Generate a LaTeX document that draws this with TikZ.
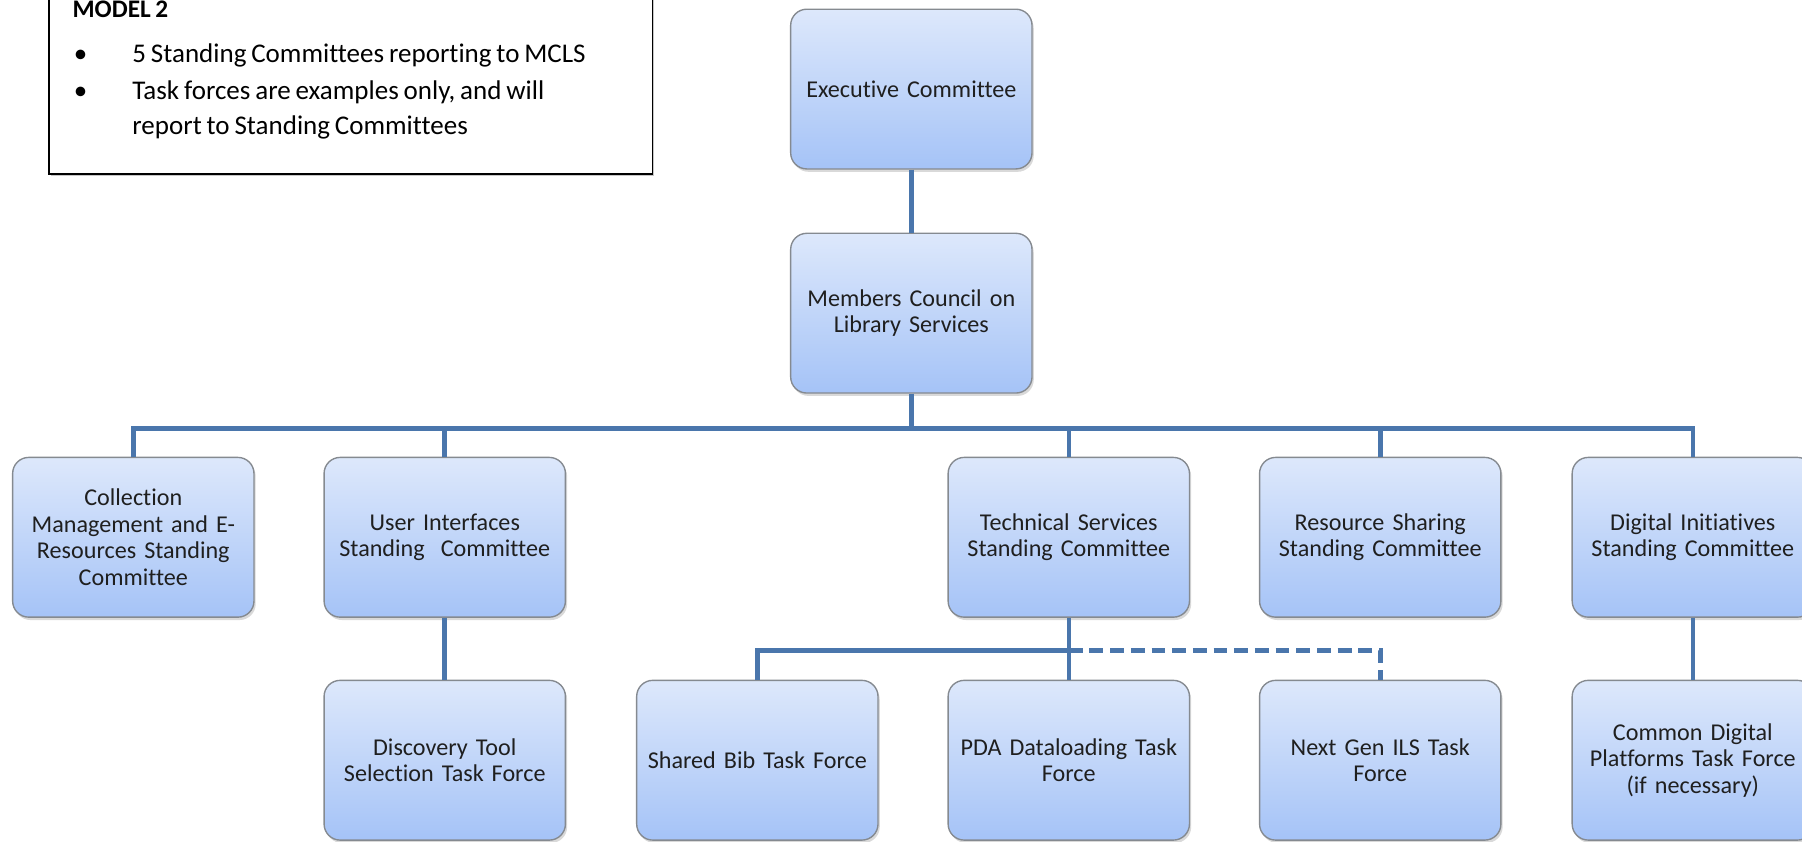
\documentclass[tikz,border=0pt]{standalone}
\usepackage{fontspec}
\setmainfont{Carlito}[Ligatures=NoCommon, WordSpace=0.8]
\usetikzlibrary{shadows}
\definecolor{boxtop}{HTML}{DDE8FB}
\definecolor{boxbot}{HTML}{A5C3F7}
\definecolor{boxline}{HTML}{858A90}
\definecolor{conncol}{HTML}{4A76AC}
\tikzset{
  orgbox/.style={rectangle, rounded corners=14pt, draw=boxline, line width=1.2pt,
    top color=boxtop, bottom color=boxbot, minimum width=210pt, minimum height=139pt,
    align=center, text width=200pt, inner sep=3pt, text=black!88,
    font=\fontsize{21}{23}\selectfont,
    drop shadow={opacity=0.3, shadow xshift=1.5pt, shadow yshift=-2.5pt}},
  conn/.style={draw=conncol, line width=4pt},
  notetext/.style={anchor=base west, inner sep=0pt, font=\fontsize{23.5}{26}\selectfont},
}
\begin{document}
\begin{tikzpicture}[x=1pt,y=-1pt]
\useasboundingbox (0,0) rectangle (1568,732);
% note box
\node[draw=black, line width=1.3pt, fill=white, minimum width=525pt, minimum height=190pt,
      anchor=south west, inner sep=0pt,
      drop shadow={opacity=0.45, shadow xshift=1.5pt, shadow yshift=-1.5pt}] (note) at (42,152) {};
\node[notetext, font=\bfseries\fontsize{22}{24}\selectfont] (title) at (63,15) {MODEL 2};
\node[notetext] (d1) at (64,54) {\textbullet};
\node[notetext] (t1) at (115,54) {5 Standing Committees reporting to MCLS};
\node[notetext] (d2) at (64,87) {\textbullet};
\node[notetext] (t2) at (115,87) {Task forces are examples only, and will};
\node[notetext] (t3) at (115,117) {report to Standing Committees};

% boxes
\node[orgbox] (exec) at (793,77.5) {Executive Committee};
\node[orgbox] (mcls) at (793,272.5) {Members Council on\\Library Services};

\node[orgbox] (coll) at (116,467.5) {Collection\\Management and E-\\Resources Standing\\Committee};
\node[orgbox] (ui)   at (387,467.5) {User Interfaces\\Standing\ \ Committee};
\node[orgbox] (tech) at (930,467.5) {Technical Services\\Standing Committee};
\node[orgbox] (res)  at (1201,467.5) {Resource Sharing\\Standing Committee};
\node[orgbox] (dig)  at (1473,467.5) {Digital Initiatives\\Standing Committee};

\node[orgbox] (disc)  at (387,661.5) {Discovery Tool\\Selection Task Force};
\node[orgbox] (bib)   at (659,661.5) {Shared Bib Task Force};
\node[orgbox] (pda)   at (930,661.5) {PDA Dataloading Task\\Force};
\node[orgbox] (ngils) at (1201,661.5) {Next Gen ILS Task\\Force};
\node[orgbox] (cdp)   at (1473,661.5) {Common Digital\\Platforms Task Force\\(if necessary)};

% connectors
\coordinate (bus) at (793,373);
\coordinate (sub) at (930,566);
\draw[conn] (exec) -- (mcls);
\draw[conn] (mcls) -- (bus);
\draw[conn] (coll.north) -- (coll.north |- bus) -- (dig.north |- bus) -- (dig.north);
\draw[conn] (ui.north) -- (ui.north |- bus);
\draw[conn] (tech.north) -- (tech.north |- bus);
\draw[conn] (res.north) -- (res.north |- bus);
\draw[conn] (ui) -- (disc);
\draw[conn] (dig) -- (cdp);
\draw[conn] (tech) -- (pda);
\draw[conn] (bib.north) -- (bib.north |- sub) -- (sub);
\draw[conn, dash pattern=on 12pt off 6pt] (sub) -- (ngils.north |- sub) -- (ngils.north);
\end{tikzpicture}
\end{document}
